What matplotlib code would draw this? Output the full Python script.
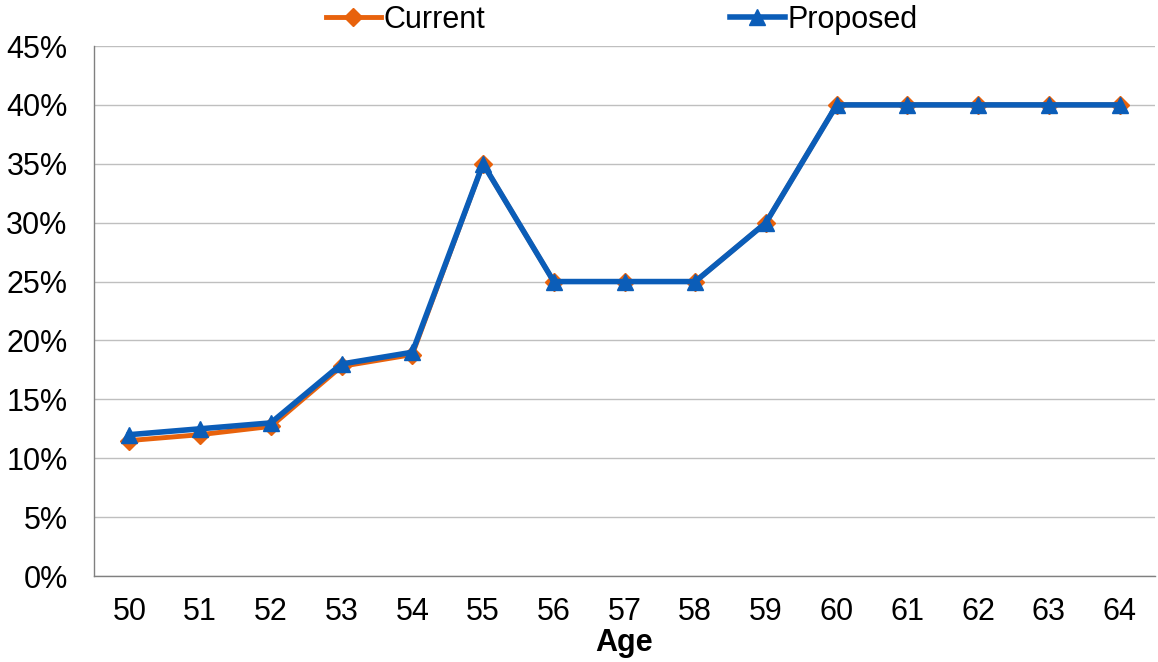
import matplotlib
matplotlib.use("Agg")
import matplotlib.pyplot as plt
from matplotlib.ticker import PercentFormatter

plt.rcParams['font.family'] = ['Liberation Sans', 'DejaVu Sans']

# rates by age
ages = [50, 51, 52, 53, 54, 55, 56, 57, 58, 59, 60, 61, 62, 63, 64]
current = [11.5, 12.0, 12.7, 17.8, 18.8, 35, 25, 25, 25, 30, 40, 40, 40, 40, 40]
proposed = [12.0, 12.5, 13.0, 18.0, 19.0, 35, 25, 25, 25, 30, 40, 40, 40, 40, 40]

orange = '#E8620C'
blue = '#0B5DB8'
grid = '#BFBFBF'

fig = plt.figure(figsize=(11.58, 6.62), dpi=100)
ax = fig.add_axes([0.0812, 0.1299, 0.9162, 0.8006])

x = range(len(ages))
ax.plot(x, current, color=orange, lw=3.5, marker='D', ms=9, label='Current', zorder=3)
ax.plot(x, proposed, color=blue, lw=4, marker='^', ms=12, label='Proposed', zorder=4)

ax.set_xlim(-0.5, len(ages) - 0.5)
ax.set_ylim(0, 45)
ax.set_yticks(range(0, 46, 5))
ax.yaxis.set_major_formatter(PercentFormatter(decimals=0))
ax.set_xticks(list(x))
ax.set_xticklabels([str(a) for a in ages])
ax.tick_params(axis='both', length=0, labelsize=22, colors='black')
ax.tick_params(axis='x', pad=15)
ax.tick_params(axis='y', pad=19)

ax.grid(axis='y', color=grid, lw=1)
ax.set_axisbelow(True)
for side in ['top', 'right']:
    ax.spines[side].set_visible(False)
for side in ['left', 'bottom']:
    ax.spines[side].set_color('#808080')
    ax.spines[side].set_linewidth(1)

ax.set_xlabel('Age', fontsize=22, fontweight='bold', labelpad=1)

fig.legend(loc='center', bbox_to_anchor=(0.537, 0.970), ncol=2, frameon=False,
           fontsize=22, handlelength=1.8, handletextpad=0.1, columnspacing=8.0,
           borderaxespad=0)

fig.savefig('out.png', dpi=100)
